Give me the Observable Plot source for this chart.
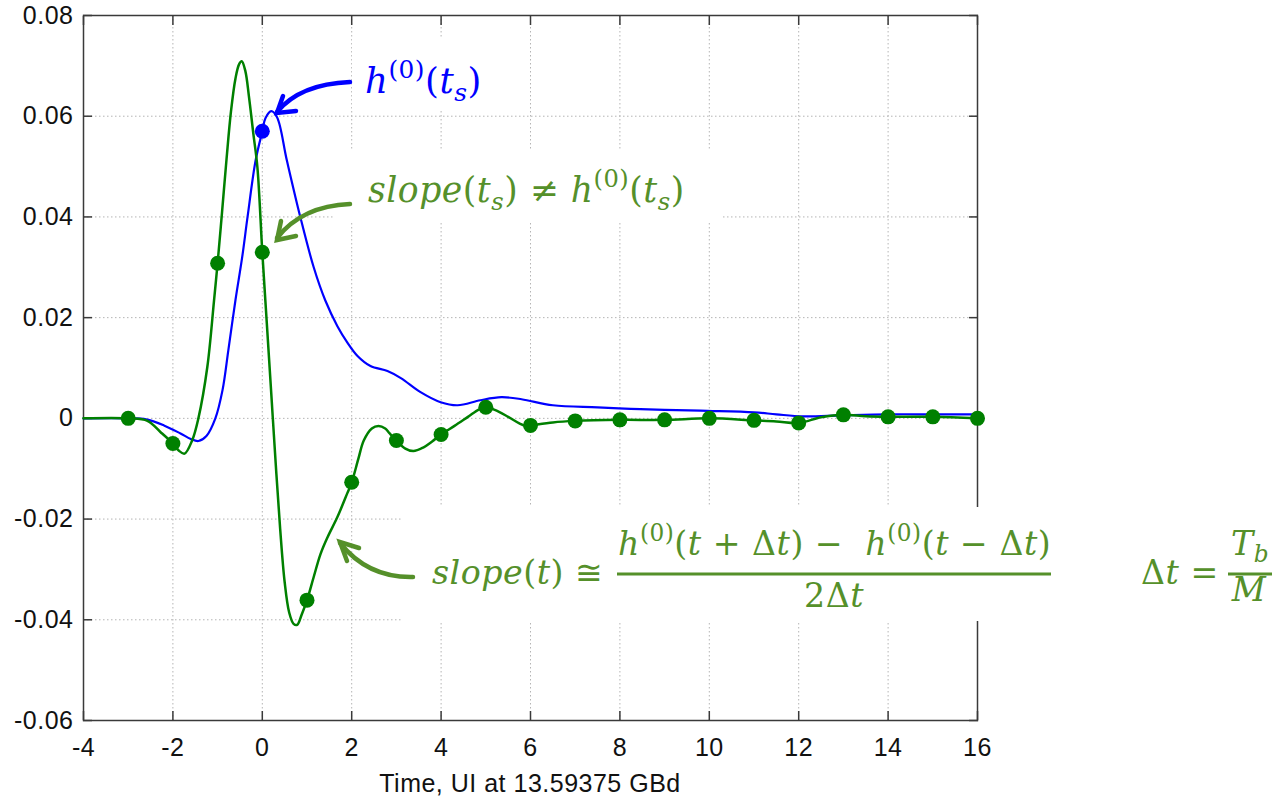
<!DOCTYPE html>
<html><head><meta charset="utf-8">
<script src="https://cdn.jsdelivr.net/npm/d3@7"></script>
<script src="https://cdn.jsdelivr.net/npm/@observablehq/plot@0.6"></script>
<style>
html,body{margin:0;padding:0;background:#fff;}
#chart{position:relative;width:1272px;height:798px;overflow:hidden;}
</style>
</head><body><div id="chart"></div>
<script>
// ---- axes ----
const xTicks = [-4, -2, 0, 2, 4, 6, 8, 10, 12, 14, 16];
const xTickLabels = ["-4", "-2", "0", "2", "4", "6", "8", "10", "12", "14", "16"];
const yTicks = [-0.06, -0.04, -0.02, 0, 0.02, 0.04, 0.06, 0.08];
const yTickLabels = ["-0.06", "-0.04", "-0.02", "0", "0.02", "0.04", "0.06", "0.08"];
const xLabel = "Time, UI at 13.59375 GBd";

// ---- pulse response h(0)(t) (blue) ----
const pulseT = [-4, -3, -2.6, -2.2, -1.83, -1.6, -1.43, -1.25, -1.05, -0.89, -0.76, -0.6, -0.45, -0.33, -0.15, 0, 0.07, 0.2, 0.33, 0.55, 0.85, 1.15, 1.41, 1.68, 1.9, 2.13, 2.42, 2.8, 3.1, 3.54, 3.99, 4.37, 4.88, 5.35, 5.8, 6.5, 7.5, 8.24, 9.0, 9.96, 11.0, 11.5, 12.1, 12.96, 14, 15, 16];
const pulseV = [0, 0, -0.0002, -0.0014, -0.003, -0.0041, -0.0045, -0.0035, 0, 0.0056, 0.0135, 0.0235, 0.032, 0.04, 0.0512, 0.057, 0.0596, 0.061, 0.0598, 0.0512, 0.04, 0.03, 0.0234, 0.0183, 0.0151, 0.0124, 0.0104, 0.0094, 0.008, 0.0052, 0.0032, 0.0026, 0.0036, 0.0042, 0.0038, 0.0026, 0.0022, 0.0019, 0.0017, 0.0015, 0.0012, 0.0008, 0.0004, 0.0006, 0.0008, 0.0008, 0.0008];

// ---- slope(t) (green) ----
const slopeT = [-4, -3, -2.57, -2.28, -2, -1.87, -1.74, -1.57, -1.43, -1.23, -1.08, -1, -0.9, -0.8, -0.7, -0.6, -0.52, -0.46, -0.38, -0.3, -0.2, -0.11, 0, 0.1, 0.2, 0.3, 0.4, 0.5, 0.6, 0.7, 0.78, 0.88, 1, 1.15, 1.3, 1.46, 1.68, 1.9, 2, 2.15, 2.27, 2.45, 2.6, 2.75, 2.85, 3, 3.2, 3.38, 3.6, 3.8, 4, 4.3, 4.6, 4.85, 5, 5.2, 5.5, 5.75, 5.9, 6, 6.5, 7, 8, 9, 10, 11, 11.5, 12, 12.5, 13, 13.5, 14, 15, 16];
const slopeV = [0, 0, -0.0005, -0.0027, -0.005, -0.0064, -0.007, -0.0044, 0, 0.0102, 0.0234, 0.0308, 0.041, 0.0515, 0.061, 0.0675, 0.0703, 0.0709, 0.069, 0.064, 0.0565, 0.0499, 0.033, 0.019, 0.005, -0.009, -0.022, -0.0325, -0.0385, -0.0408, -0.041, -0.039, -0.0361, -0.0315, -0.027, -0.0236, -0.0196, -0.0149, -0.0127, -0.008, -0.0044, -0.002, -0.0015, -0.002, -0.003, -0.0044, -0.006, -0.0065, -0.0058, -0.0046, -0.0032, -0.0015, 0.0003, 0.0018, 0.0022, 0.0017, 0.0003, -0.001, -0.0015, -0.0014, -0.0008, -0.0005, -0.0003, -0.0003, 0, -0.0004, -0.0006, -0.0009, 0.0002, 0.0007, 0.0004, 0.0003, 0.0003, 0];

// ---- sampled slope at integer UI (green dots) ----
const sampleT = [-3, -2, -1, 0, 1, 2, 3, 4, 5, 6, 7, 8, 9, 10, 11, 12, 13, 14, 15, 16];
const sampleV = [0, -0.005, 0.0308, 0.033, -0.0361, -0.0127, -0.0044, -0.0032, 0.0022, -0.0014, -0.0005, -0.0003, -0.0003, 0, -0.0004, -0.0009, 0.0007, 0.0003, 0.0003, 0];

// ---- h(0)(ts) cursor (blue dot) ----
const cursorT = [0];
const cursorV = [0.057];

const BLUE = "#0000ff";
const GREEN = "#008000";
const NOTE_GREEN = "#55902a";

const pulse = pulseT.map((t, i) => ({t, v: pulseV[i]}));
const slope = slopeT.map((t, i) => ({t, v: slopeV[i]}));
const samples = sampleT.map((t, i) => ({t, v: sampleV[i]}));
const cursor = cursorT.map((t, i) => ({t, v: cursorV[i]}));

const tickStyle = {stroke: "#3a3a3a", strokeWidth: 1.5, label: null, tickFormat: () => ""};

const plot = Plot.plot({
  width: 1272, height: 798,
  marginLeft: 83, marginRight: 295, marginTop: 15, marginBottom: 78,
  style: {fontFamily: "'Liberation Sans', Arial, sans-serif", fontSize: "25px", letterSpacing: "0.5px", background: "#fff", color: "#000", overflow: "visible"},
  x: {domain: [-4, 16]},
  y: {domain: [-0.06, 0.08]},
  marks: [
    Plot.gridX(xTicks, {stroke: "#b4b4b4", strokeOpacity: 1, strokeWidth: 1, strokeDasharray: "1.5,2.5"}),
    Plot.gridY(yTicks, {stroke: "#b4b4b4", strokeOpacity: 1, strokeWidth: 1, strokeDasharray: "1.5,2.5"}),
    Plot.frame({stroke: "#3a3a3a", strokeWidth: 1.5}),
    Plot.axisX(xTicks, {anchor: "bottom", tickSize: -9, ...tickStyle}),
    Plot.axisX(xTicks, {anchor: "top", tickSize: -9, ...tickStyle}),
    Plot.axisY(yTicks, {anchor: "left", tickSize: -9, ...tickStyle}),
    Plot.axisY(yTicks, {anchor: "right", tickSize: -9, ...tickStyle}),
    Plot.axisX(xTicks, {anchor: "bottom", tickSize: 0, tickPadding: 18, label: null, fill: "#111",
      tickFormat: d => xTickLabels[xTicks.indexOf(d)]}),
    Plot.axisY(yTicks, {anchor: "left", tickSize: 0, tickPadding: 10, label: null, fill: "#111",
      tickFormat: d => yTickLabels[yTicks.findIndex(y => Math.abs(y - d) < 1e-9)]}),
    Plot.line(pulse, {x: "t", y: "v", stroke: BLUE, strokeWidth: 2.2, curve: "catmull-rom"}),
    Plot.line(slope, {x: "t", y: "v", stroke: GREEN, strokeWidth: 2.5, curve: "catmull-rom"}),
    Plot.dot(samples, {x: "t", y: "v", r: 7.5, fill: GREEN, stroke: null}),
    Plot.dot(cursor, {x: "t", y: "v", r: 7.5, fill: BLUE, stroke: null})
  ]
});
document.getElementById("chart").appendChild(plot);

const svg = d3.select(plot);
const X = plot.scale("x").apply, Y = plot.scale("y").apply;

// axis title
svg.append("text").attr("x", (X(-4) + X(16)) / 2).attr("y", 792)
  .attr("text-anchor", "middle").attr("fill", "#111")
  .style("font-family", "'Liberation Sans', Arial, sans-serif").style("font-size", "25px").style("letter-spacing", "0.5px")
  .text(xLabel);

// white backgrounds of the annotation boxes
const boxes = [[352, 38, 505, 110], [333, 150, 722, 222], [402, 507, 1272, 621]];
for (const [x0, y0, x1, y1] of boxes) {
  svg.append("rect").attr("x", x0).attr("y", y0).attr("width", x1 - x0).attr("height", y1 - y0).attr("fill", "#fff");
}

// math-like text
function buildMath(x, y, parts, color, size, anchor) {
  const t = svg.append("text").attr("x", x).attr("y", y).attr("fill", color)
    .attr("text-anchor", anchor || "start").attr("xml:space", "preserve")
    .style("white-space", "pre")
    .style("font-family", "'DejaVu Serif', 'Liberation Serif', serif").style("font-size", size + "px");
  let cur = 0;
  for (const [s, k] of parts) {
    let shift = 0, fs = 1;
    if (k.includes("sup")) { shift = -0.42; fs = 0.7; }
    if (k.includes("sub")) { shift = 0.22; fs = 0.7; }
    const target = shift * size;
    t.append("tspan").text(s).attr("dy", target - cur)
      .style("font-size", (fs * size) + "px")
      .style("font-style", k.includes("i") ? "italic" : "normal");
    cur = target;
  }
  return t;
}
function mathText(x, y, parts, color, size, anchor, targetW) {
  let t = buildMath(x, y, parts, color, size, anchor);
  if (targetW) {
    const w = t.node().getBBox().width;
    const ns = size * targetW / w;
    t.remove();
    t = buildMath(x, y, parts, color, ns, anchor);
    return ns;
  }
  return size;
}
const h0 = [["h", "i"], ["(0)", "supn"]];
const ts = [["(", "n"], ["t", "i"], ["s", "subi"], [")", "n"]];

mathText(365, 93, [...h0, ...ts], BLUE, 34, "start", 117);
mathText(368, 202, [["slope", "i"], ...ts, [" \u2260 ", "n"], ...h0, ...ts], NOTE_GREEN, 34, "start", 317);
mathText(432, 584, [["slope", "i"], ["(", "n"], ["t", "i"], [")", "n"], [" \u2245", "n"]], NOTE_GREEN, 34, "start", 171);
const fs = mathText(618, 555, [...h0, ["(", "n"], ["t", "i"], [" + \u0394", "n"], ["t", "i"], [")", "n"], [" \u2212  ", "n"],
  ...h0, ["(", "n"], ["t", "i"], [" \u2212 \u0394", "n"], ["t", "i"], [")", "n"]], NOTE_GREEN, 34, "start", 433);
mathText(834, 607, [["2\u0394", "n"], ["t", "i"]], NOTE_GREEN, fs, "middle");
mathText(1141, 584, [["\u0394", "n"], ["t", "i"], [" =", "n"]], NOTE_GREEN, fs, "start");
mathText(1250, 555, [["T", "i"], ["b", "subi"]], NOTE_GREEN, fs, "middle");
mathText(1249, 601, [["M", "i"]], NOTE_GREEN, fs, "middle");

// fraction bars
svg.append("line").attr("x1", 617).attr("x2", 1051).attr("y1", 574).attr("y2", 574).attr("stroke", NOTE_GREEN).attr("stroke-width", 2.8);
svg.append("line").attr("x1", 1228).attr("x2", 1272).attr("y1", 574).attr("y2", 574).attr("stroke", NOTE_GREEN).attr("stroke-width", 2.8);

// curved arrows
function arrow(d, head, color) {
  svg.append("path").attr("d", d).attr("fill", "none").attr("stroke", color)
    .attr("stroke-width", 4.5).attr("stroke-linecap", "round");
  svg.append("path").attr("d", head).attr("fill", "none").attr("stroke", color)
    .attr("stroke-width", 4.5).attr("stroke-linecap", "round").attr("stroke-linejoin", "miter");
}
arrow("M350,82 Q300,84 277,112", "M283,96 L277,113 L296,111", BLUE);
arrow("M350,204 Q302,206 277,238", "M281,221 L277,240 L296,236", NOTE_GREEN);
arrow("M413,577 Q368,578 340,543", "M359,548 L340,542 L347,561", NOTE_GREEN);
</script>
</body></html>
